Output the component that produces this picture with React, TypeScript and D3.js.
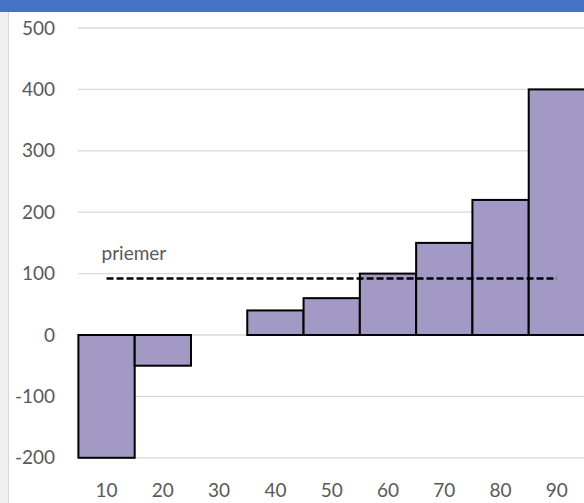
import React from "react";
import * as d3 from "d3";

const categories = ["10", "20", "30", "40", "50", "60", "70", "80", "90"];
const values = [-200, -50, 0, 40, 60, 100, 150, 220, 400];
const averageValue = 92;
const averageLabel = "priemer";
const yTicks = [-200, -100, 0, 100, 200, 300, 400, 500];

const W = 584;
const H = 503;
const FONT = "Lato, 'Open Sans', sans-serif";

export default function App() {
  const x = d3.scaleBand<string>().domain(categories).range([78.4, 585]).padding(0);
  const y = d3.scaleLinear().domain([-200, 500]).range([457.8, 28]);
  const first = categories[0];
  const last = categories[categories.length - 1];
  const xFirst = x(first)! + x.bandwidth() / 2;
  const xLast = x(last)! + x.bandwidth() / 2;
  const avgLine = d3.line<[number, number]>()([
    [xFirst, y(averageValue)],
    [xLast, y(averageValue)],
  ]);

  return (
    <svg
      width={W}
      height={H}
      style={{ position: "absolute", left: 0, top: 0, background: "#fff" }}
    >
      {/* window frame */}
      <rect x={0} y={0} width={W} height={12} fill="#4472c4" />
      <rect x={0} y={12} width={8} height={H - 12} fill="#efefef" />
      <line x1={8.5} x2={8.5} y1={12} y2={H} stroke="#d6d6d6" />

      {/* gridlines */}
      {yTicks.map((t) => (
        <line
          key={t}
          x1={78}
          x2={W}
          y1={y(t)}
          y2={y(t)}
          stroke="#d9d9d9"
          strokeWidth={1.3}
        />
      ))}

      {/* y tick labels */}
      {yTicks.map((t) => (
        <text
          key={t}
          x={55}
          y={y(t)}
          dy="0.35em"
          textAnchor="end"
          fontFamily={FONT}
          fontSize={19}
          fill="#595959"
        >
          {t}
        </text>
      ))}

      {/* bars */}
      {categories.map((c, i) => {
        const v = values[i];
        if (v === 0) return null;
        const y0 = y(Math.max(0, v));
        const y1 = y(Math.min(0, v));
        return (
          <rect
            key={c}
            x={x(c)!}
            y={y0}
            width={x.bandwidth()}
            height={y1 - y0}
            fill="#a29ac5"
            stroke="#000"
            strokeWidth={2}
          />
        );
      })}

      {/* average line */}
      <path
        d={avgLine ?? ""}
        fill="none"
        stroke="#000"
        strokeWidth={2.5}
        strokeDasharray="7 3"
      />
      <text
        x={xFirst - 5}
        y={y(averageValue) - 19}
        fontFamily={FONT}
        fontSize={19}
        fill="#595959"
      >
        {averageLabel}
      </text>

      {/* x tick labels */}
      {categories.map((c) => (
        <text
          key={c}
          x={x(c)! + x.bandwidth() / 2}
          y={497}
          textAnchor="middle"
          fontFamily={FONT}
          fontSize={19}
          fill="#595959"
        >
          {c}
        </text>
      ))}
    </svg>
  );
}
